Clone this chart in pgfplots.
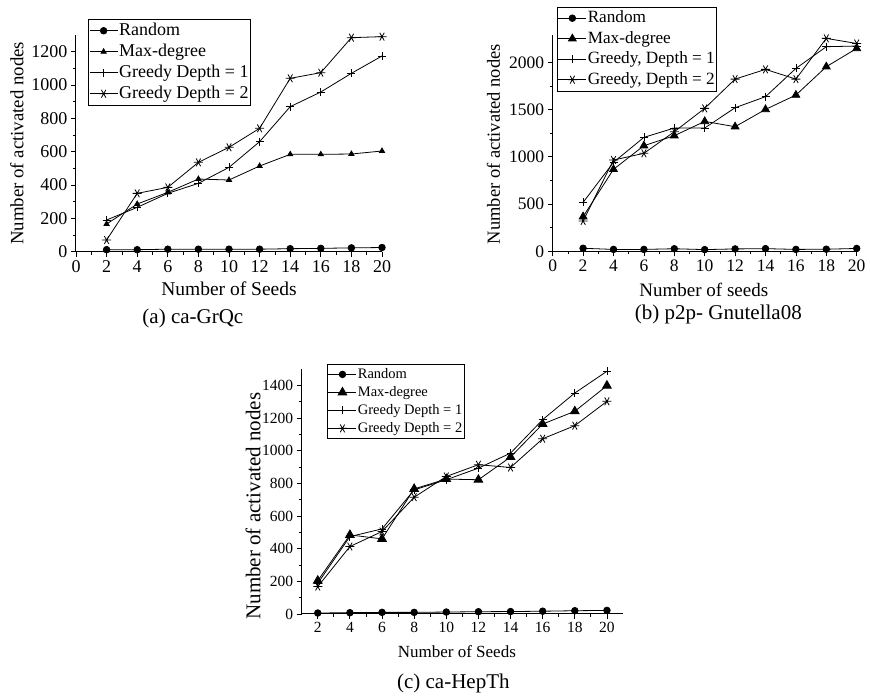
\documentclass[border=0pt]{standalone}
\usepackage{fontspec}
\setmainfont{Liberation Serif}
\usepackage{pgfplots}
\pgfplotsset{compat=1.18}

% legend sample: short line with the mark in the middle
\pgfplotsset{legend image code/.code={%
  \draw[mark repeat=2,mark phase=2,#1] plot coordinates {(0pt,0pt) (14pt,0pt) (28pt,0pt)};}}

\pgfplotsset{
  seeds/.style={
    scale only axis,
    axis lines=left,
    axis line style={-, line width=1pt},
    tick align=outside,
    tick style={black, line width=0.8pt},
    major tick length=5pt,
    minor tick length=3pt,
    minor x tick num=1,
    minor y tick num=1,
    clip=false,
    /pgf/number format/assume math mode=true,
    /pgf/number format/1000 sep={},
    legend cell align=left,
    legend style={draw=black, line width=0.6pt, anchor=north west,
      inner xsep=1pt, inner ysep=1pt},
  },
  rnd/.style={black, line width=0.8pt, mark=*, mark size=3.3pt},
  maxd/.style={black, line width=0.8pt, mark=triangle*, mark size=#1},
  gd1/.style={black, line width=0.8pt, mark=+, mark size=4pt},
  gd2/.style={black, line width=0.8pt, mark=asterisk, mark size=4.5pt, mark options={rotate=90}},
}

\begin{document}
\begin{tikzpicture}

% ---------------- (a) ca-GrQc ----------------
\begin{axis}[seeds,
  at={(76pt,444.3pt)}, anchor=south west,
  width=306pt, height=216.7pt,
  xmin=0, xmax=20, ymin=0, ymax=1300,
  xtick={0,2,...,20}, ytick={0,200,...,1200},
  tick label style={font=\fontsize{18}{20}\selectfont},
  xlabel={Number of Seeds},
  ylabel={Number of activated nodes},
  xlabel style={at={(axis description cs:0.5,-0.172)}, anchor=center, font=\fontsize{19.5}{22}\selectfont},
  ylabel style={at={(axis description cs:-0.193,0.5)}, anchor=center, font=\fontsize{18.8}{24}\selectfont},
  legend style={at={(0.039,1.074)}, nodes={font=\fontsize{18}{20}\selectfont, inner sep=1pt, text height=14.5pt, text depth=4.5pt}},
]
\addplot[rnd] coordinates {(2,12) (4,12) (6,15) (8,15) (10,15) (12,15) (14,18) (16,20) (18,23) (20,25)};
\addlegendentry{Random}
\addplot[maxd=3pt] coordinates {(2,166) (4,286) (6,356) (8,436) (10,430) (12,514) (14,584) (16,584) (18,586) (20,604)};
\addlegendentry{Max-degree}
\addplot[gd1] coordinates {(2,190) (4,266) (6,350) (8,410) (10,506) (12,660) (14,870) (16,958) (18,1070) (20,1174)};
\addlegendentry{Greedy Depth = 1}
\addplot[gd2] coordinates {(2,70) (4,350) (6,386) (8,536) (10,626) (12,740) (14,1040) (16,1074) (18,1284) (20,1290)};
\addlegendentry{Greedy Depth = 2}
\node[font=\fontsize{21}{24}\selectfont] at (axis description cs:0.382,-0.306) {(a) ca-GrQc};
\end{axis}

% ---------------- (b) p2p-Gnutella08 ----------------
\begin{axis}[seeds,
  at={(552.7pt,444.7pt)}, anchor=south west,
  width=304pt, height=216.3pt,
  xmin=0, xmax=20, ymin=0, ymax=2290,
  xtick={0,2,...,20}, ytick={0,500,...,2000},
  tick label style={font=\fontsize{17.5}{20}\selectfont},
  xlabel={Number of seeds},
  ylabel={Number of activated nodes},
  xlabel style={at={(axis description cs:0.497,-0.179)}, anchor=center, font=\fontsize{19}{22}\selectfont},
  ylabel style={at={(axis description cs:-0.195,0.495)}, anchor=center, font=\fontsize{18.5}{24}\selectfont},
  legend style={at={(0.013,1.131)}, nodes={font=\fontsize{17.2}{20}\selectfont, inner sep=1pt, text height=14pt, text depth=4.5pt}},
]
\addplot[rnd] coordinates {(2,32) (4,20) (6,20) (8,27) (10,18) (12,25) (14,28) (16,20) (18,22) (20,30)};
\addlegendentry{Random}
\addplot[maxd=4.5pt] coordinates {(2,367) (4,868) (6,1118) (8,1224) (10,1375) (12,1319) (14,1502) (16,1654) (18,1954) (20,2148)};
\addlegendentry{Max-degree}
\addplot[gd1] coordinates {(2,518) (4,942) (6,1206) (8,1305) (10,1305) (12,1520) (14,1637) (16,1936) (18,2166) (20,2173)};
\addlegendentry{Greedy, Depth = 1}
\addplot[gd2] coordinates {(2,321) (4,966) (6,1037) (8,1266) (10,1513) (12,1823) (14,1926) (16,1823) (18,2254) (20,2200)};
\addlegendentry{Greedy, Depth = 2}
\node[font=\fontsize{21}{24}\selectfont] at (axis description cs:0.545,-0.294) {(b) p2p- Gnutella08};
\end{axis}

% ---------------- (c) ca-HepTh ----------------
\begin{axis}[seeds,
  at={(301.7pt,82pt)}, anchor=south west,
  width=321.3pt, height=245pt,
  xmin=1, xmax=21, ymin=0, ymax=1500,
  xtick={2,4,...,20}, ytick={0,200,...,1400},
  tick label style={font=\fontsize{15.5}{18}\selectfont},
  xlabel={Number of Seeds},
  ylabel={Number of activated nodes},
  xlabel style={at={(axis description cs:0.483,-0.154)}, anchor=center, font=\fontsize{17}{20}\selectfont},
  ylabel style={at={(axis description cs:-0.151,0.44)}, anchor=center, font=\fontsize{21}{24}\selectfont},
  legend style={at={(0.078,1.02)}, nodes={font=\fontsize{14.5}{17}\selectfont, inner sep=1pt, text height=12pt, text depth=4pt}},
]
\addplot[rnd] coordinates {(2,6) (4,8) (6,10) (8,10) (10,12) (12,14) (14,15) (16,17) (18,20) (20,22)};
\addlegendentry{Random}
\addplot[maxd=5pt] coordinates {(2,204) (4,484) (6,460) (8,766) (10,826) (12,822) (14,961) (16,1163) (18,1241) (20,1398)};
\addlegendentry{Max-degree}
\addplot[gd1] coordinates {(2,188) (4,474) (6,521) (8,760) (10,822) (12,893) (14,985) (16,1190) (18,1353) (20,1486)};
\addlegendentry{Greedy Depth = 1}
\addplot[gd2] coordinates {(2,168) (4,413) (6,505) (8,715) (10,842) (12,914) (14,897) (16,1073) (18,1153) (20,1302)};
\addlegendentry{Greedy Depth = 2}
\node[font=\fontsize{21}{24}\selectfont] at (axis description cs:0.472,-0.283) {(c) ca-HepTh};
\end{axis}

\pgfresetboundingbox
\path (0pt,0pt) rectangle (870pt,696pt);
\end{tikzpicture}
\end{document}
